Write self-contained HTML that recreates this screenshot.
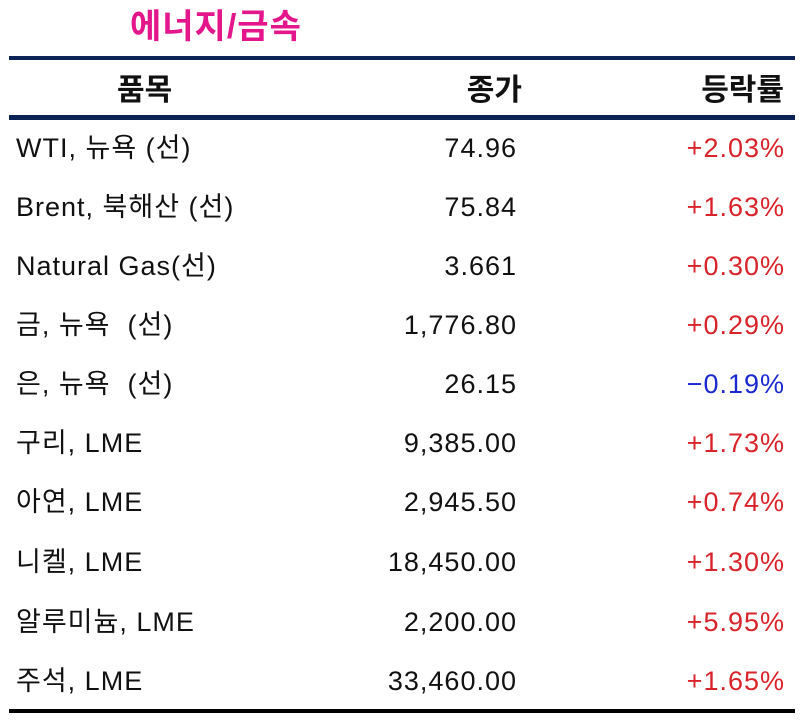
<!DOCTYPE html>
<html><head><meta charset="utf-8"><style>
body{margin:0;width:800px;height:722px;background:#fff;position:relative;overflow:hidden;font-family:"Liberation Sans","Noto Sans CJK KR","NanumGothic",sans-serif;}
.t{position:absolute;left:130px;top:5px;font-size:34px;line-height:44px;font-weight:bold;color:#e4168c;letter-spacing:1px}
.ln{position:absolute;left:9px;width:786px}
.r{position:absolute;left:0;width:800px;height:40px;font-size:27px;color:#111;letter-spacing:1px}
.r span{position:absolute;top:0;white-space:nowrap;line-height:40px;height:40px}
.a{left:16px}.b{right:283px}.c{right:15px;color:#d9232a}
.h{font-weight:bold;font-size:30px;letter-spacing:0}
</style></head><body>
<div class="t">에너지/금속</div>
<div class="ln" style="top:56px;height:4px;background:#0c2356"></div>
<div class="r h" style="top:71px"><span style="left:117px">품목</span><span style="right:278px">종가</span><span style="right:16px">등락률</span></div>
<div class="ln" style="top:115px;height:5px;background:#0c2356"></div>
<div class="r" style="top:128px"><span class="a">WTI, 뉴욕 (선)</span><span class="b">74.96</span><span class="c">+2.03%</span></div>
<div class="r" style="top:187px"><span class="a">Brent, 북해산 (선)</span><span class="b">75.84</span><span class="c">+1.63%</span></div>
<div class="r" style="top:246px"><span class="a">Natural Gas(선)</span><span class="b">3.661</span><span class="c">+0.30%</span></div>
<div class="r" style="top:305px"><span class="a">금, 뉴욕 &nbsp;(선)</span><span class="b">1,776.80</span><span class="c">+0.29%</span></div>
<div class="r" style="top:364px"><span class="a">은, 뉴욕 &nbsp;(선)</span><span class="b">26.15</span><span class="c" style="color:#1a2ad0">−0.19%</span></div>
<div class="r" style="top:423px"><span class="a">구리, LME</span><span class="b">9,385.00</span><span class="c">+1.73%</span></div>
<div class="r" style="top:482px"><span class="a">아연, LME</span><span class="b">2,945.50</span><span class="c">+0.74%</span></div>
<div class="r" style="top:542px"><span class="a">니켈, LME</span><span class="b">18,450.00</span><span class="c">+1.30%</span></div>
<div class="r" style="top:602px"><span class="a">알루미늄, LME</span><span class="b">2,200.00</span><span class="c">+5.95%</span></div>
<div class="r" style="top:661px"><span class="a">주석, LME</span><span class="b">33,460.00</span><span class="c">+1.65%</span></div>
<div class="ln" style="top:709px;height:4px;background:#000"></div>
</body></html>
